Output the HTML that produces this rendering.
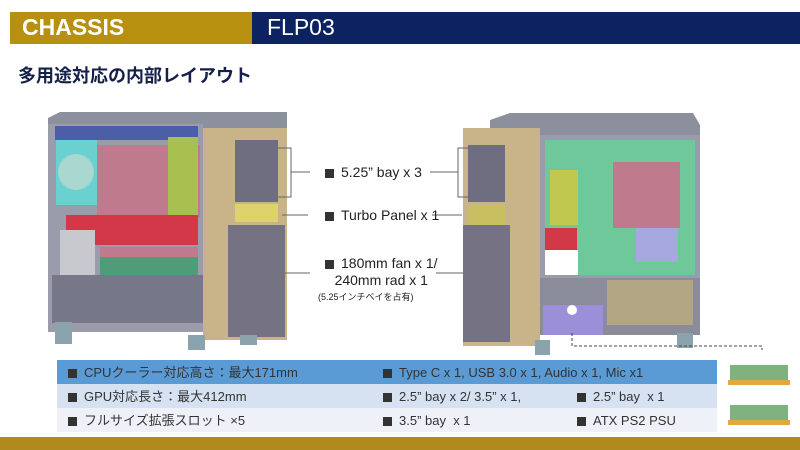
<!DOCTYPE html>
<html><head><meta charset="utf-8"><style>
body{margin:0;width:800px;height:450px;background:#fff;overflow:hidden;position:relative;font-family:"Liberation Sans","Noto Sans CJK JP",sans-serif}
.a{position:absolute;white-space:nowrap}
.t{font-size:13px;color:#333;line-height:16px;height:16px}
.b{display:inline-block;width:9px;height:9px;background:#333;margin-right:7px;vertical-align:-1px}
</style></head><body>
<div class="a" style="left:10px;top:12px;width:242px;height:32px;background:#b8900f"></div>
<div class="a" style="left:252px;top:12px;width:548px;height:32px;background:#0d2260"></div>
<div class="a" style="left:22px;top:14px;font-size:23px;font-weight:bold;color:#fff">CHASSIS</div>
<div class="a" style="left:267px;top:14px;font-size:23px;color:#fff">FLP03</div>
<div class="a" style="left:18px;top:62px;font-size:18px;font-weight:bold;color:#15204a">多用途対応の内部レイアウト</div>

<svg class="a" style="left:0;top:0" width="800" height="450">
<polygon points="48,118 60,112 287,112 287,130 203,132 48,130" fill="#8c8f9c"/>
<rect x="48" y="124" width="155" height="208" fill="#9a9cab"/>
<rect x="55" y="126" width="143" height="14" fill="#4a5fa8"/>
<rect x="97" y="145" width="103" height="72" fill="#c07a8e"/>
<rect x="56" y="140" width="41" height="65" fill="#6ad0d0"/>
<circle cx="76" cy="172" r="18" fill="#a8d8d0"/>
<rect x="168" y="137" width="30" height="85" fill="#a8c050"/>
<rect x="66" y="215" width="132" height="30" fill="#d23848"/>
<rect x="100" y="247" width="98" height="10" fill="#c07a8e"/>
<rect x="100" y="257" width="98" height="18" fill="#4f9d78"/>
<rect x="60" y="230" width="35" height="45" fill="#c8c8cf"/>
<rect x="52" y="275" width="151" height="48" fill="#767889"/>
<rect x="203" y="128" width="84" height="212" fill="#c9b48a"/>
<rect x="235" y="140" width="43" height="62" fill="#6f6d80"/>
<rect x="235" y="204" width="43" height="18" fill="#dcd36a"/>
<rect x="228" y="225" width="57" height="112" fill="#757284"/>
<rect x="55" y="322" width="17" height="22" fill="#8aa3ad"/>
<rect x="188" y="335" width="17" height="15" fill="#8aa3ad"/>
<rect x="240" y="335" width="17" height="10" fill="#8aa3ad"/>
<polygon points="490,120 510,113 693,113 700,125 700,140 490,140" fill="#8c8f9c"/>
<rect x="540" y="135" width="160" height="200" fill="#9a9cab"/>
<rect x="545" y="140" width="150" height="135" fill="#6fc89a"/>
<rect x="613" y="162" width="67" height="66" fill="#c07a8e"/>
<rect x="636" y="228" width="42" height="34" fill="#a8a8e0"/>
<rect x="550" y="170" width="28" height="55" fill="#c0c850"/>
<rect x="545" y="228" width="32" height="22" fill="#d23848"/>
<rect x="545" y="250" width="33" height="25" fill="#fff"/>
<rect x="540" y="278" width="160" height="57" fill="#8a8c9a"/>
<rect x="607" y="280" width="86" height="45" fill="#b3a684"/>
<rect x="543" y="305" width="60" height="30" fill="#9a8fd8"/>
<circle cx="572" cy="310" r="5" fill="#fff"/>
<rect x="463" y="128" width="77" height="218" fill="#c9b48a"/>
<rect x="468" y="145" width="37" height="57" fill="#6f6d80"/>
<rect x="468" y="205" width="37" height="20" fill="#c8c060"/>
<rect x="463" y="225" width="47" height="117" fill="#757284"/>
<rect x="535" y="340" width="15" height="15" fill="#8aa3ad"/>
<rect x="677" y="333" width="16" height="15" fill="#8aa3ad"/>
<polyline points="572,333 572,346 762,346 762,350" fill="none" stroke="#444" stroke-dasharray="3,2"/>
<g stroke="#666" fill="none" stroke-width="1">
<polyline points="278,148 291,148 291,197 278,197"/><line x1="291" y1="172" x2="310" y2="172"/>
<polyline points="470,148 458,148 458,197 470,197"/><line x1="430" y1="172" x2="458" y2="172"/>
<line x1="282" y1="215" x2="308" y2="215"/><line x1="432" y1="215" x2="462" y2="215"/>
<line x1="285" y1="273" x2="310" y2="273"/><line x1="436" y1="273" x2="463" y2="273"/>
</g>
<rect x="730" y="365" width="58" height="18" fill="#7fb27e"/><rect x="728" y="380" width="62" height="5" fill="#e0a840"/>
<rect x="730" y="405" width="58" height="18" fill="#7fb27e"/><rect x="728" y="420" width="62" height="5" fill="#e0a840"/>
</svg>

<div class="a" style="left:325px;top:164px;font-size:14px;color:#222"><span class="b"></span>5.25” bay x 3</div>
<div class="a" style="left:325px;top:207px;font-size:14px;color:#222"><span class="b"></span>Turbo Panel x 1</div>
<div class="a" style="left:325px;top:255px;font-size:14px;color:#222;text-align:center;line-height:17px"><span class="b"></span>180mm fan x 1/<br>240mm rad x 1</div>
<div class="a" style="left:318px;top:290px;font-size:9px;color:#222">(5.25インチベイを占有)</div>

<div class="a" style="left:57px;top:360px;width:660px;height:24px;background:#5b9bd5"></div>
<div class="a" style="left:57px;top:384px;width:660px;height:24px;background:#d6e2f2"></div>
<div class="a" style="left:57px;top:408px;width:660px;height:24px;background:#eef2f8"></div>
<div class="a t" style="left:68px;top:365px"><span class="b"></span>CPUクーラー対応高さ：最大171mm</div>
<div class="a t" style="left:383px;top:365px"><span class="b"></span>Type C x 1, USB 3.0 x 1, Audio x 1, Mic x1</div>
<div class="a t" style="left:68px;top:389px"><span class="b"></span>GPU対応長さ：最大412mm</div>
<div class="a t" style="left:383px;top:389px"><span class="b"></span>2.5” bay x 2/ 3.5” x 1,</div>
<div class="a t" style="left:577px;top:389px"><span class="b"></span>2.5” bay&nbsp; x 1</div>
<div class="a t" style="left:68px;top:413px"><span class="b"></span>フルサイズ拡張スロット ×5</div>
<div class="a t" style="left:383px;top:413px"><span class="b"></span>3.5” bay&nbsp; x 1</div>
<div class="a t" style="left:577px;top:413px"><span class="b"></span>ATX PS2 PSU</div>
<div class="a" style="left:0;top:437px;width:800px;height:13px;background:#b08a1e"></div>
</body></html>
